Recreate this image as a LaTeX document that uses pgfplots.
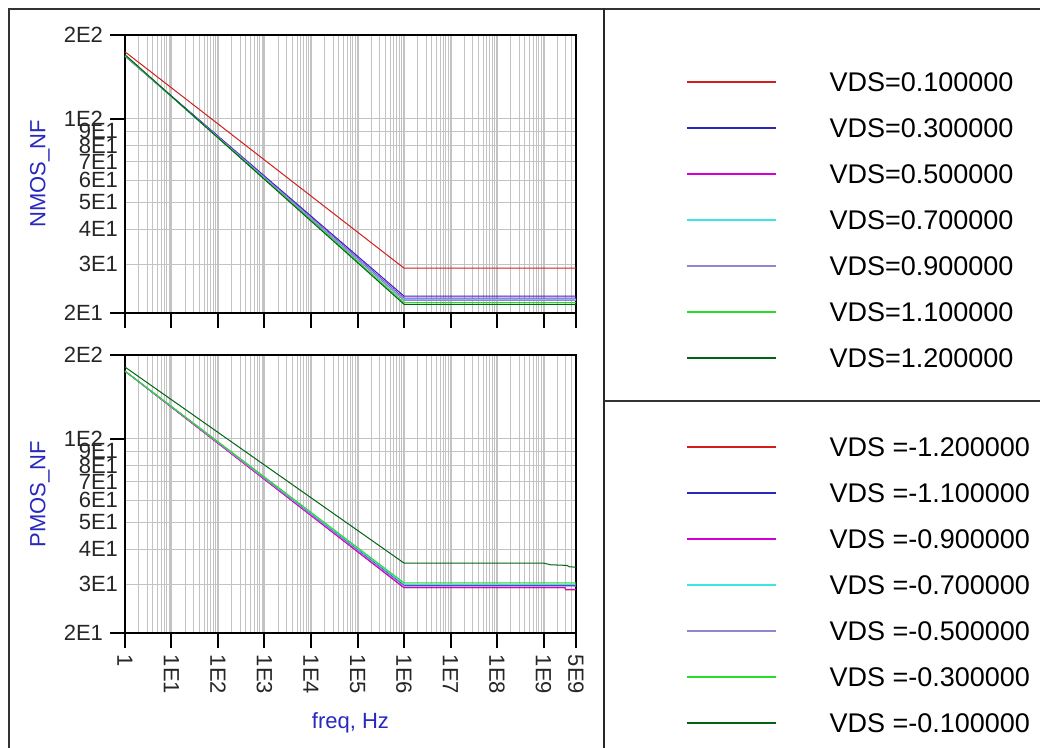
\documentclass[border=0pt]{standalone}
\usepackage{pgfplots}
\pgfplotsset{compat=1.18}
\usepackage{fontspec}
\setmainfont{Liberation Sans}

\definecolor{cred}{RGB}{210,30,30}
\definecolor{cblue}{RGB}{40,40,190}
\definecolor{cmag}{RGB}{210,0,210}
\definecolor{ccyan}{RGB}{60,230,230}
\definecolor{clav}{RGB}{150,130,210}
\definecolor{cgreen}{RGB}{40,220,40}
\definecolor{cdgreen}{RGB}{0,100,20}
\definecolor{gridgray}{RGB}{195,195,195}
\definecolor{labblue}{RGB}{40,40,190}

\pgfplotsset{
  every axis/.append style={
    scale only axis, width=225.5pt, height=139pt,
    xmin=1, xmax=5e9, ymin=20, ymax=200,
    axis line style={black, line width=1pt},
    tick align=outside,
    xtick pos=bottom, ytick pos=left,
    major tick length=7.5pt, minor tick length=0pt,
    tick style={black, line width=1pt},
    xtick={1,10,100,1e3,1e4,1e5,1e6,1e7,1e8,1e9,5e9},
    minor xtick={2,3,4,5,6,7,8,9,20,30,40,50,60,70,80,90,200,300,400,500,600,700,800,900,2000,3000,4000,5000,6000,7000,8000,9000,2e4,3e4,4e4,5e4,6e4,7e4,8e4,9e4,2e5,3e5,4e5,5e5,6e5,7e5,8e5,9e5,2e6,3e6,4e6,5e6,6e6,7e6,8e6,9e6,2e7,3e7,4e7,5e7,6e7,7e7,8e7,9e7,2e8,3e8,4e8,5e8,6e8,7e8,8e8,9e8,2e9,3e9,4e9},
    ytick={20,100,200},
    yticklabels={2E1,1E2,2E2},
    minor ytick={30,40,50,60,70,80,90,100},
    extra y ticks={30,40,50,60,70,80,90},
    extra y tick labels={3E1,4E1,5E1,6E1,7E1,8E1,9E1},
    extra y tick style={major tick length=0pt, grid=none},
    xmajorgrids, xminorgrids, yminorgrids,
    major grid style={gridgray, line width=1pt},
    minor grid style={gridgray, line width=0.5pt},
    tick label style={font=\fontsize{11}{13}\selectfont, color=black!85},
    yticklabel style={anchor=east},
    ylabel style={at={(axis description cs:-0.1885,0.5)}, anchor=center, color=labblue, font=\fontsize{11}{13}\selectfont},
    legend cell align=left,
    legend style={draw=none, fill=none,
      inner sep=0pt, outer sep=0pt, row sep=13.33pt,
      font=\fontsize{13.5}{16}\selectfont,
      nodes={inner sep=0pt, text height=9.67pt, text depth=0pt},
      /tikz/every odd column/.append style={column sep=26.5pt}},
    legend image code/.code={\draw[line width=0.8pt] (0pt,0pt) -- (44.5pt,0pt);},
  },
  every axis plot/.append style={line width=0.5pt},
}

\begin{document}
\begin{tikzpicture}[x=0.5pt,y=-0.5pt]
\useasboundingbox (0,0) rectangle (1040,748);

% NMOS
\begin{loglogaxis}[at={(62.5pt,-17.5pt)}, anchor=north west,
  xticklabels={}, ylabel={NMOS\_NF},
  legend style={at={(axis description cs:1.2439,0.8658)}, anchor=north west}]
\addplot[cred] coordinates {(1,174) (1e6,29.0) (5e9,29.0)};
\addlegendentry{VDS=0.100000}
\addplot[cblue] coordinates {(1,168) (1e6,23.0) (5e9,23.0)};
\addlegendentry{VDS=0.300000}
\addplot[cmag] coordinates {(1,168) (1e6,22.6) (5e9,22.6)};
\addlegendentry{VDS=0.500000}
\addplot[ccyan] coordinates {(1,168) (1e6,22.4) (5e9,22.4)};
\addlegendentry{VDS=0.700000}
\addplot[clav] coordinates {(1,168) (1e6,22.2) (5e9,22.2)};
\addlegendentry{VDS=0.900000}
\addplot[cgreen] coordinates {(1,169) (1e6,21.8) (5e9,21.8)};
\addlegendentry{VDS=1.100000}
\addplot[cdgreen] coordinates {(1,170) (1e6,21.5) (5e9,21.5)};
\addlegendentry{VDS=1.200000}
\node[rotate=90, color=labblue, font=\fontsize{10}{12}\selectfont] at (axis description cs:1.1685,0.3597) {NMOS\_NF};
\end{loglogaxis}

% PMOS
\begin{loglogaxis}[at={(62.5pt,-177.5pt)}, anchor=north west,
  xticklabels={1,1E1,1E2,1E3,1E4,1E5,1E6,1E7,1E8,1E9,5E9},
  xticklabel style={rotate=-90, anchor=west},
  ylabel={PMOS\_NF},
  xlabel={freq, Hz},
  xlabel style={at={(axis description cs:0.5,-0.3237)}, anchor=center, color=labblue, font=\fontsize{11}{13}\selectfont},
  legend style={at={(axis description cs:1.2439,0.704)}, anchor=north west}]
\addplot[cred] coordinates {(1,175) (1e6,29.1) (2.9e9,29.1) (3e9,28.6) (5e9,28.6)};
\addlegendentry{VDS =-1.200000}
\addplot[cblue] coordinates {(1,175) (1e6,29.7) (5e9,29.7)};
\addlegendentry{VDS =-1.100000}
\addplot[cmag] coordinates {(1,175) (1e6,29.1) (2.9e9,29.1) (3e9,28.7) (5e9,28.7)};
\addlegendentry{VDS =-0.900000}
\addplot[ccyan] coordinates {(1,175) (1e6,30.0) (5e9,30.0)};
\addlegendentry{VDS =-0.700000}
\addplot[clav] coordinates {(1,175) (1e6,29.5) (5e9,29.5)};
\addlegendentry{VDS =-0.500000}
\addplot[cgreen] coordinates {(1,175) (1e6,30.3) (5e9,30.3)};
\addlegendentry{VDS =-0.300000}
\addplot[cdgreen] coordinates {(1,181) (1e6,35.7) (1e9,35.7) (1.4e9,35.2) (3.2e9,35.0) (3.6e9,34.6) (5e9,34.5)};
\addlegendentry{VDS =-0.100000}
\node[rotate=90, color=labblue, font=\fontsize{10}{12}\selectfont] at (axis description cs:1.1685,0.309) {PMOS\_NF};
\end{loglogaxis}

% frame
\draw[line width=1pt, black!80] (9,748) -- (9,9) -- (1040,9);
\draw[line width=1.3pt, black!85] (604,9) -- (604,748);
\draw[line width=1pt, black!80] (604,401) -- (1040,401);
\end{tikzpicture}
\end{document}
